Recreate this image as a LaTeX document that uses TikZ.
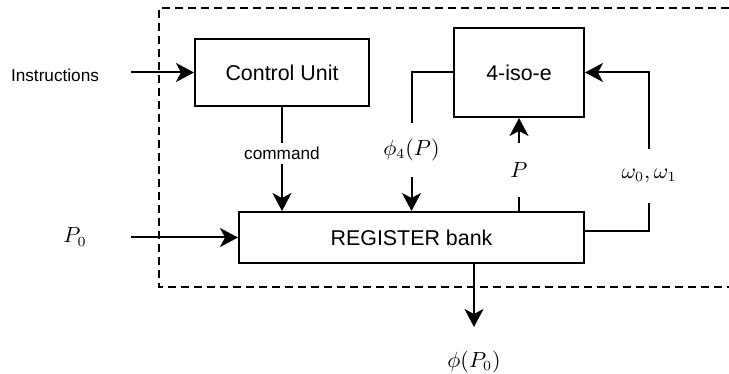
\documentclass[tikz,border=0pt]{standalone}
\usepackage{fontspec}
\setmainfont{Liberation Sans}
\usetikzlibrary{arrows.meta,positioning}

\begin{document}
\begin{tikzpicture}[x=0.5pt,y=-0.5pt]
\tikzstyle{block}=[draw, line width=1pt, fill=white, font=\fontsize{10.7}{13}\selectfont, inner sep=0pt]
\tikzstyle{arr}=[line width=1pt, -{Stealth[length=9pt,width=9.5pt,inset=2.5pt]}]
\tikzstyle{chip}=[line width=0.9pt, dash pattern=on 4pt off 2.5pt]
\tikzstyle{lbl}=[fill=white, font=\fontsize{8.6}{10}\selectfont, inner sep=2pt]
\tikzstyle{mlbl}=[fill=white, font=\fontsize{10.7}{13}\selectfont, minimum height=27pt, inner xsep=2pt]
\useasboundingbox (0,0) rectangle (729,374);
\draw[chip] (729,8) -| (159,287) -- (729,287);

\node[block, minimum width=87pt, minimum height=33.5pt] (cu) at (282,72.5) {Control Unit};
\node[block, minimum width=65pt, minimum height=44.5pt] (iso) at (519,72.5) {4-iso-e};
\node[block, minimum width=172.5pt, minimum height=25.5pt] (reg) at (411.5,237.5) {REGISTER bank};
\node[font=\fontsize{8.6}{10}\selectfont] (ins) at (55,75) {Instructions};
\node[font=\fontsize{10.7}{13}\selectfont] (p0) at (75,237) {$P_0$};
\node[font=\fontsize{10.7}{13}\selectfont] (out) at (474,362) {$\phi(P_0)$};
\coordinate (src) at (131,0);
\coordinate (back) at (649,0);

\draw[arr] (src |- cu.west) -- (cu.west);
\draw[arr] (src |- reg.west) -- (reg.west);
\draw[arr] (cu.south) -- node[lbl, pos=0.45] {command} (cu.south |- reg.north);
\draw[arr] (iso.west) -| node[mlbl, pos=0.78] {$\phi_4(P)$} (reg.north);
\draw[arr] (reg.north -| iso.south) -- node[mlbl, pos=0.44] {$P$} (iso.south);
\draw[arr] ([yshift=3pt]reg.east) -| node[mlbl, pos=0.675] {$\omega_0,\omega_1$} (back |- iso.east) -- (iso.east);
\draw[arr, shorten >=8.5pt] (reg.south -| out) -- (out.north);
\end{tikzpicture}
\end{document}
